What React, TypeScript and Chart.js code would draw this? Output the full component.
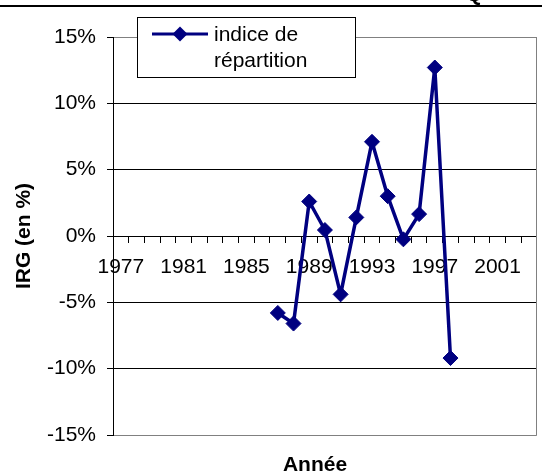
import React, { useEffect, useRef } from "react";
import { Chart, registerables } from "chart.js";

Chart.register(...registerables);

const years: string[] = [
  "1977", "1978", "1979", "1980", "1981", "1982", "1983", "1984", "1985",
  "1986", "1987", "1988", "1989", "1990", "1991", "1992", "1993", "1994",
  "1995", "1996", "1997", "1998", "1999", "2000", "2001", "2002", "2003",
];

const indiceRepartition: (number | null)[] = [
  null, null, null, null, null, null, null, null, null, null,
  -5.8, -6.6, 2.6, 0.45, -4.4, 1.4, 7.1, 3.0, -0.25, 1.65, 12.7, -9.2,
  null, null, null, null, null,
];

const yTicks: number[] = [-15, -10, -5, 0, 5, 10, 15];

const seriesLabel = ["indice de", "répartition"];
const xTitle = "Année";
const yTitle = "IRG (en %)";

const FONT = "'Liberation Sans', Arial, sans-serif";
const NAVY = "#000080";

const decorPlugin = {
  id: "decor",
  afterDraw(chart: any) {
    const ctx = chart.ctx as CanvasRenderingContext2D;
    const area = chart.chartArea;
    ctx.save();
    // top black rule
    ctx.fillStyle = "#000";
    ctx.fillRect(0, 5, chart.width, 2);
    // fragment of the cut-off title
    ctx.font = `bold 21px ${FONT}`;
    ctx.textBaseline = "alphabetic";
    ctx.textAlign = "left";
    ctx.fillText("Q", 466, 1);
    // right plot border
    ctx.strokeStyle = "#808080";
    ctx.lineWidth = 1;
    ctx.beginPath();
    ctx.moveTo(Math.round(area.right) - 0.5, area.top);
    ctx.lineTo(Math.round(area.right) - 0.5, area.bottom);
    ctx.stroke();
    // axis titles
    ctx.fillStyle = "#000";
    ctx.font = `bold 21px ${FONT}`;
    ctx.textAlign = "center";
    ctx.fillText(xTitle, 315, 471);
    ctx.save();
    ctx.translate(30, (area.top + area.bottom) / 2);
    ctx.rotate(-Math.PI / 2);
    ctx.fillText(yTitle, 0, 0);
    ctx.restore();
    // legend
    const lx = 137.5, ly = 17.5, lw = 218, lh = 60;
    ctx.fillStyle = "#fff";
    ctx.fillRect(lx, ly, lw, lh);
    ctx.strokeStyle = "#000";
    ctx.lineWidth = 1;
    ctx.strokeRect(lx, ly, lw, lh);
    ctx.strokeStyle = NAVY;
    ctx.lineWidth = 3;
    ctx.beginPath();
    ctx.moveTo(152, 34);
    ctx.lineTo(208, 34);
    ctx.stroke();
    ctx.fillStyle = NAVY;
    ctx.beginPath();
    const r = 7.5;
    ctx.moveTo(180, 34 - r);
    ctx.lineTo(180 + r, 34);
    ctx.lineTo(180, 34 + r);
    ctx.lineTo(180 - r, 34);
    ctx.closePath();
    ctx.fill();
    ctx.fillStyle = "#000";
    ctx.font = `21px ${FONT}`;
    ctx.textAlign = "left";
    ctx.fillText(seriesLabel[0], 214, 41);
    ctx.fillText(seriesLabel[1], 214, 67);
    ctx.restore();
  },
};

export default function App() {
  const canvasRef = useRef<HTMLCanvasElement | null>(null);

  useEffect(() => {
    if (!canvasRef.current) return;
    const chart = new Chart(canvasRef.current, {
      type: "line",
      data: {
        labels: years,
        datasets: [
          {
            label: seriesLabel.join(" "),
            data: indiceRepartition,
            borderColor: NAVY,
            backgroundColor: NAVY,
            borderWidth: 3.5,
            tension: 0,
            pointStyle: "rectRot",
            pointRadius: 7.5,
            pointBorderWidth: 1,
            pointBackgroundColor: NAVY,
            pointBorderColor: NAVY,
            spanGaps: false,
          },
        ],
      },
      options: {
        responsive: false,
        animation: false,
        layout: { autoPadding: false, padding: { left: 0, top: 37, right: 1, bottom: 39 } },
        plugins: {
          legend: { display: false },
          tooltip: { enabled: false },
          title: { display: false },
        },
        scales: {
          x: {
            type: "category",
            position: { y: 0 } as any,
            offset: true,
            grid: {
              offset: true,
              drawOnChartArea: false,
              drawTicks: true,
              tickLength: 6,
              color: "#000",
            },
            border: { display: true, color: "#000", width: 1 },
            ticks: {
              autoSkip: false,
              maxRotation: 0,
              minRotation: 0,
              padding: 13,
              color: "#000",
              font: { family: FONT, size: 21 },
              callback: (_v: any, i: number) => (i % 4 === 0 ? years[i] : ""),
            },
          },
          y: {
            min: yTicks[0],
            max: yTicks[yTicks.length - 1],
            afterFit: (scale: any) => {
              scale.width = 113;
            },
            afterBuildTicks: (scale: any) => {
              scale.ticks = yTicks.map((v) => ({ value: v }));
            },
            grid: {
              drawTicks: true,
              tickLength: 6,
              tickColor: "#000",
              color: (c: any) =>
                c.tick && (c.tick.value === 15 || c.tick.value === -15)
                  ? "#808080"
                  : "#000",
            },
            border: { display: true, color: "#000", width: 1 },
            ticks: {
              padding: 11,
              color: "#000",
              font: { family: FONT, size: 21 },
              callback: (v: any) => `${v}%`,
            },
          },
        },
      },
      plugins: [decorPlugin],
    });
    return () => chart.destroy();
  }, []);

  return (
    <canvas
      ref={canvasRef}
      width={542}
      height={474}
      style={{ position: "fixed", left: 0, top: 0, width: 542, height: 474, display: "block" }}
    />
  );
}
